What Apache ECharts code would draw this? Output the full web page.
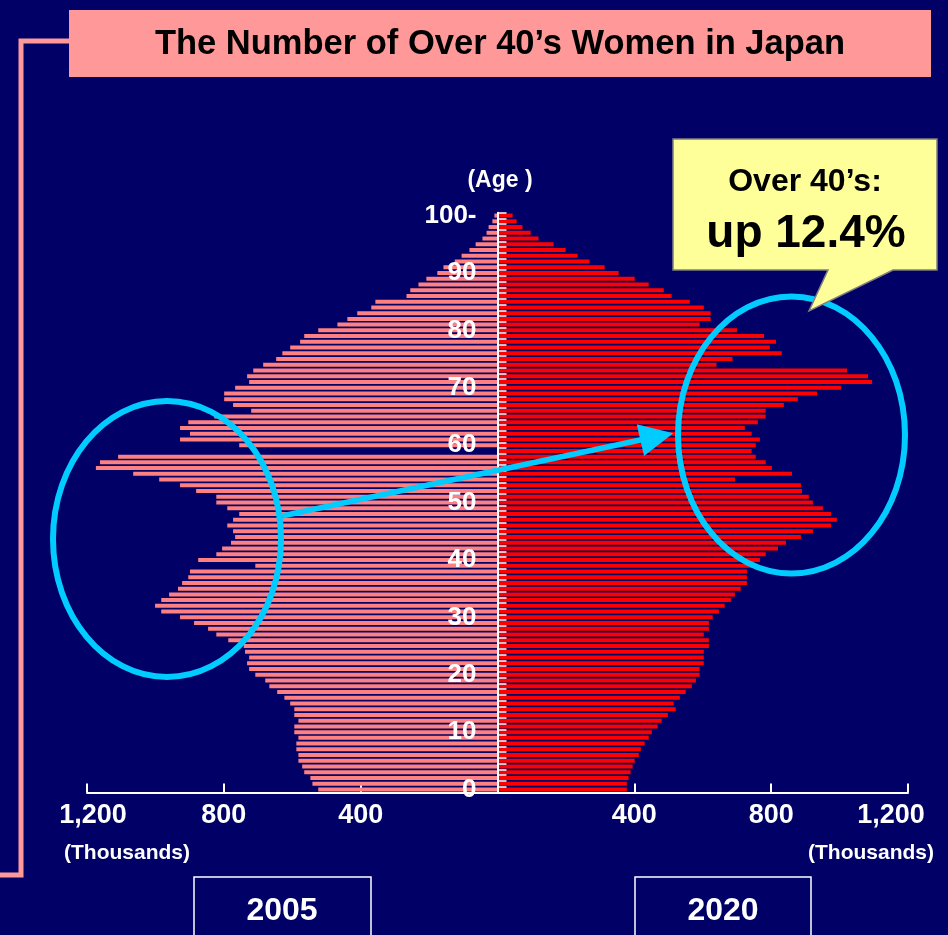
<!DOCTYPE html>
<html>
<head>
<meta charset="utf-8">
<title>The Number of Over 40’s Women in Japan</title>
<script src="https://cdn.jsdelivr.net/npm/echarts@6/dist/echarts.min.js"></script>
<style>
  html, body { margin: 0; padding: 0; background: #000066; }
  #chart { width: 948px; height: 935px; }
</style>
</head>
<body>
<div id="chart"></div>
<script>
// Age categories (single years, 100 = "100 and over")
const ages = [
  '0','1','2','3','4','5','6','7','8','9',
  '10','11','12','13','14','15','16','17','18','19',
  '20','21','22','23','24','25','26','27','28','29',
  '30','31','32','33','34','35','36','37','38','39',
  '40','41','42','43','44','45','46','47','48','49',
  '50','51','52','53','54','55','56','57','58','59',
  '60','61','62','63','64','65','66','67','68','69',
  '70','71','72','73','74','75','76','77','78','79',
  '80','81','82','83','84','85','86','87','88','89',
  '90','91','92','93','94','95','96','97','98','99',
  '100'
];

// Women by age, 2005 (thousands)
const women2005 = [
  524, 541, 547, 565, 571, 582, 582, 588, 588, 582,
  594, 594, 582, 594, 594, 606, 623, 644, 667, 679,
  708, 726, 732, 726, 738, 742, 787, 822, 846, 887,
  928, 983, 1001, 983, 960, 934, 922, 904, 899, 708,
  875, 822, 805, 779, 767, 773, 790, 773, 755, 790,
  822, 822, 881, 928, 989, 1065, 1174, 1162, 1109, null,
  755, 928, 899, 928, 904, 828, 720, 773, 799, 799,
  767, 726, 732, 714, 685, 647, 629, 606, 577, 565,
  524, 468, 439, 410, 369, 357, 266, 255, 231, 208,
  176, 158, 125, 105, 82, 64, 44, 32, 26, 15,
  9
];

// Women by age, 2020 (thousands)
const women2020 = [
  378, 378, 383, 389, 395, 401, 413, 419, 430, 442,
  451, 468, 480, 498, 521, 515, 533, 550, 568, 580,
  591, 591, 603, 603, 603, 618, 618, 603, 618, 618,
  629, 647, 664, 682, 694, 711, 729, 729, 729, 750,
  767, 784, 820, 843, 887, 922, 975, 992, 975, 951,
  922, 910, 890, 887, 694, 861, 802, 784, 755, 743,
  755, 767, 743, 723, 761, 784, 784, 837, 878, 934,
  1004, 1095, 1083, 1022, 640, 687, 831, 796, 814, 779,
  700, 591, 623, 623, 603, 562, 509, 486, 442, 401,
  354, 313, 269, 234, 199, 164, 120, 97, 73, 56,
  44
];

// Scale ticks (2005 drawn to the left as negative values)
const scaleTicks = [-1200, -800, -400, 0, 400, 800, 1200];
const scaleTickLabels = ['1,200', '800', '400', '', '400', '800', '1,200'];
// Age axis labels every ten years
const ageTickLabels = ['0', '10', '20', '30', '40', '50', '60', '70', '80', '90', '100-'];

const FONT = "'Liberation Sans', Arial, sans-serif";
const PINK_BAR = '#FF8080';
const RED_BAR = '#FF0000';
const CYAN = '#00CCFF';
const PANEL_PINK = '#FF9999';

const GRID_LEFT = 87;
const GRID_RIGHT = 40;
const CHART_W = 948;
// the age axis sits on the zero line, halfway across the plot
const AGE_AXIS_OFFSET = -((CHART_W - GRID_LEFT - GRID_RIGHT) / 2);

const chart = echarts.init(document.getElementById('chart'), null, { renderer: 'canvas' });

const labelRich = {
  l: { padding: [0, 0, 0, 12], color: '#fff', fontSize: 27, fontWeight: 'bold', fontFamily: FONT },
  r: { padding: [0, 34, 0, 0], color: '#fff', fontSize: 27, fontWeight: 'bold', fontFamily: FONT }
};

const option = {
  backgroundColor: '#000066',
  animation: false,
  grid: { left: GRID_LEFT, right: GRID_RIGHT, top: 212.7, height: 579.7, containLabel: false },
  xAxis: {
    type: 'value',
    min: -1200,
    max: 1200,
    interval: 400,
    splitLine: { show: false },
    axisLine: { show: true, lineStyle: { color: '#ffffff', width: 2 } },
    axisTick: { show: true, inside: true, length: 9, lineStyle: { color: '#ffffff', width: 2 } },
    axisLabel: {
      show: true,
      showMinLabel: true,
      showMaxLabel: true,
      margin: 10,
      color: '#ffffff',
      fontSize: 27,
      fontWeight: 'bold',
      fontFamily: FONT,
      rich: labelRich,
      formatter: function (value) {
        const i = scaleTicks.indexOf(value);
        const t = i >= 0 ? scaleTickLabels[i] : '';
        if (value === scaleTicks[0]) return '{l|' + t + '}';
        if (value === scaleTicks[scaleTicks.length - 1]) return '{r|' + t + '}';
        return t;
      }
    }
  },
  yAxis: {
    type: 'category',
    data: ages,
    z: 5,
    position: 'left',
    offset: AGE_AXIS_OFFSET,
    axisLine: { show: true, onZero: false, lineStyle: { color: '#ffffff', width: 2 } },
    axisTick: { show: true, inside: true, length: 9, interval: 0, lineStyle: { color: '#ffffff', width: 1.5 } },
    splitLine: { show: false },
    axisLabel: {
      show: true,
      interval: function (idx) { return idx % 10 === 0; },
      margin: 21,
      color: '#ffffff',
      fontSize: 26,
      fontWeight: 'bold',
      fontFamily: FONT,
      formatter: function (value) {
        return ageTickLabels[Math.round(Number(value) / 10)] || '';
      }
    }
  },
  series: [
    {
      name: '2005',
      type: 'bar',
      barWidth: 4,
      barGap: '-100%',
      itemStyle: { color: PINK_BAR },
      data: women2005.map(function (v) { return v == null ? null : -v; })
    },
    {
      name: '2020',
      type: 'bar',
      barWidth: 4,
      barGap: '-100%',
      itemStyle: { color: RED_BAR },
      data: women2020
    }
  ],
  graphic: {
    elements: [
      // bracket line running from the title panel down the left edge
      {
        type: 'polyline', z: 50,
        shape: { points: [[70, 41], [21, 41], [21, 875], [0, 875]] },
        style: { stroke: PANEL_PINK, lineWidth: 5, fill: null }
      },
      // title panel
      {
        type: 'rect', z: 51,
        shape: { x: 69, y: 10, width: 862, height: 67 },
        style: { fill: PANEL_PINK }
      },
      {
        type: 'text', z: 52, x: 500, y: 44,
        style: {
          text: 'The Number of Over 40’s Women in Japan',
          fill: '#000000', font: 'bold 34.5px ' + FONT,
          textAlign: 'center', textVerticalAlign: 'middle'
        }
      },
      // age axis caption
      {
        type: 'text', z: 52, x: 500, y: 181,
        style: {
          text: '(Age )', fill: '#ffffff', font: 'bold 23px ' + FONT,
          textAlign: 'center', textVerticalAlign: 'middle'
        }
      },
      // unit captions
      {
        type: 'text', z: 52, x: 127, y: 853,
        style: {
          text: '(Thousands)', fill: '#ffffff', font: 'bold 21px ' + FONT,
          textAlign: 'center', textVerticalAlign: 'middle'
        }
      },
      {
        type: 'text', z: 52, x: 871, y: 853,
        style: {
          text: '(Thousands)', fill: '#ffffff', font: 'bold 21px ' + FONT,
          textAlign: 'center', textVerticalAlign: 'middle'
        }
      },
      // year boxes
      {
        type: 'rect', z: 52,
        shape: { x: 194, y: 877, width: 177, height: 70 },
        style: { fill: null, stroke: '#ffffff', lineWidth: 1.5 }
      },
      {
        type: 'text', z: 52, x: 282, y: 911,
        style: {
          text: '2005', fill: '#ffffff', font: 'bold 32px ' + FONT,
          textAlign: 'center', textVerticalAlign: 'middle'
        }
      },
      {
        type: 'rect', z: 52,
        shape: { x: 635, y: 877, width: 176, height: 70 },
        style: { fill: null, stroke: '#ffffff', lineWidth: 1.5 }
      },
      {
        type: 'text', z: 52, x: 723, y: 911,
        style: {
          text: '2020', fill: '#ffffff', font: 'bold 32px ' + FONT,
          textAlign: 'center', textVerticalAlign: 'middle'
        }
      },
      // highlight rings around the over-40 cohorts
      {
        type: 'ellipse', z: 60,
        shape: { cx: 167, cy: 539, rx: 114, ry: 138 },
        style: { fill: null, stroke: CYAN, lineWidth: 6 }
      },
      {
        type: 'ellipse', z: 60,
        shape: { cx: 791.5, cy: 435, rx: 113.5, ry: 138.5 },
        style: { fill: null, stroke: CYAN, lineWidth: 6 }
      },
      // arrow from 2005 cohort to 2020 cohort
      {
        type: 'line', z: 60,
        shape: { x1: 282, y1: 516, x2: 645, y2: 439 },
        style: { stroke: CYAN, lineWidth: 5.5 }
      },
      {
        type: 'polygon', z: 60,
        shape: { points: [[636.7, 424.3], [673.3, 433.3], [644, 456]] },
        style: { fill: CYAN }
      },
      // speech callout
      {
        type: 'polygon', z: 70,
        shape: {
          points: [[673, 139], [937, 139], [937, 270], [893, 270], [809, 311], [828, 270], [673, 270]]
        },
        style: { fill: '#FFFF99', stroke: '#808080', lineWidth: 1.5 }
      },
      {
        type: 'text', z: 71, x: 805, y: 182,
        style: {
          text: 'Over 40’s:', fill: '#000000', font: 'bold 32px ' + FONT,
          textAlign: 'center', textVerticalAlign: 'middle'
        }
      },
      {
        type: 'text', z: 71, x: 806, y: 234,
        style: {
          text: 'up 12.4%', fill: '#000000', font: 'bold 46px ' + FONT,
          textAlign: 'center', textVerticalAlign: 'middle'
        }
      }
    ]
  }
};

chart.setOption(option);
</script>
</body>
</html>
